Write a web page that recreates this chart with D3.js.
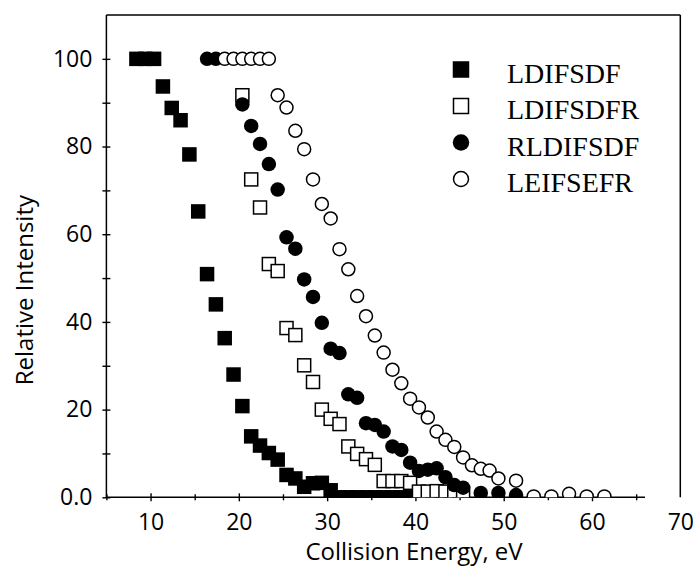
<!DOCTYPE html>
<html>
<head>
<meta charset="utf-8">
<script src="https://cdn.jsdelivr.net/npm/d3@7/dist/d3.min.js"></script>
<style>
  html, body { margin: 0; padding: 0; background: #fff; }
  svg { display: block; }
</style>
</head>
<body>
<svg id="chart" width="693" height="567"></svg>
<script>
// Collision energy (eV) and relative intensity for each peptide series
const ldifsdfEnergy = [8.4, 9.4, 10.4, 11.4, 12.4, 13.4, 14.4, 15.4, 16.4, 17.4, 18.4, 19.4, 20.4, 21.4, 22.4, 23.4, 24.4, 25.4, 26.4, 27.4, 28.4, 29.4, 30.4, 31.4, 32.4, 33.4, 34.4, 35.4, 36.4, 37.4, 38.4, 39.4, 40.4];
const ldifsdfIntensity = [100, 100, 100, 93.7, 88.8, 86.0, 78.2, 65.2, 50.9, 44.0, 36.3, 28.0, 20.8, 13.9, 11.8, 10.1, 8.6, 5.1, 4.3, 2.4, 3.2, 3.3, 1.6, 0, 0, 0, 0, 0, 0, 0, 0, 0, 0];

const ldifsdfrEnergy = [20.4, 21.4, 22.4, 23.4, 24.4, 25.4, 26.4, 27.4, 28.4, 29.4, 30.4, 31.4, 32.4, 33.4, 34.4, 35.4, 36.4, 37.4, 38.4, 39.4, 40.4, 41.4, 42.4, 43.4, 44.4, 45.4];
const ldifsdfrIntensity = [91.7, 72.5, 66.1, 53.2, 51.6, 38.6, 37.0, 30.1, 26.3, 20.0, 17.9, 16.7, 11.6, 9.9, 8.7, 7.4, 3.7, 3.7, 3.7, 3.3, 1.3, 1.3, 1.4, 1.3, 1.0, 1.0];

const rldifsdfEnergy = [16.4, 17.4, 20.4, 21.4, 22.4, 23.4, 24.4, 25.4, 26.4, 27.4, 28.4, 29.4, 30.4, 31.4, 32.4, 33.4, 34.4, 35.4, 36.4, 37.4, 38.4, 39.4, 40.4, 41.4, 42.4, 43.4, 44.4, 45.4, 47.4, 49.4, 51.4];
const rldifsdfIntensity = [100, 100, 89.6, 84.7, 80.6, 76.0, 70.2, 59.3, 56.7, 49.7, 45.7, 39.8, 33.9, 32.9, 23.5, 22.7, 16.9, 16.5, 15.0, 11.6, 10.8, 7.9, 6.0, 6.3, 6.6, 4.6, 2.8, 2.2, 1.0, 1.0, 0.5];

const leifsefrEnergy = [18.4, 19.4, 20.4, 21.4, 22.4, 23.4, 24.4, 25.4, 26.4, 27.4, 28.4, 29.4, 30.4, 31.4, 32.4, 33.4, 34.4, 35.4, 36.4, 37.4, 38.4, 39.4, 40.4, 41.4, 42.4, 43.4, 44.4, 45.4, 46.4, 47.4, 48.4, 49.4, 51.4, 53.4, 55.4, 57.4, 59.4, 61.4];
const leifsefrIntensity = [100, 100, 100, 100, 100, 100, 91.7, 88.9, 83.6, 79.4, 72.5, 66.9, 63.6, 56.6, 52.0, 45.9, 41.3, 36.9, 33.0, 29.1, 26.0, 22.5, 20.5, 18.2, 15.0, 13.1, 11.5, 9.1, 7.3, 6.5, 6.1, 4.3, 3.8, 0.2, 0.2, 0.8, 0.2, 0.2];

const seriesNames = ["LDIFSDF", "LDIFSDFR", "RLDIFSDF", "LEIFSEFR"];

const xMajorTicks = [10, 20, 30, 40, 50, 60, 70];
const xMinorTicks = [5, 15, 25, 35, 45, 55, 65];
const yMajorTicks = [0, 20, 40, 60, 80, 100];
const yMinorTicks = [10, 30, 50, 70, 90];
const yTickLabels = ["0.0", "20", "40", "60", "80", "100"];

const series = [
  { name: seriesNames[0], x: ldifsdfEnergy, y: ldifsdfIntensity, shape: "square", filled: true },
  { name: seriesNames[1], x: ldifsdfrEnergy, y: ldifsdfrIntensity, shape: "square", filled: false },
  { name: seriesNames[2], x: rldifsdfEnergy, y: rldifsdfIntensity, shape: "circle", filled: true },
  { name: seriesNames[3], x: leifsefrEnergy, y: leifsefrIntensity, shape: "circle", filled: false }
];

const svg = d3.select("#chart");
const plotLeft = 106.4, plotRight = 680.3, plotTop = 15, plotBottom = 497.3;

const x = d3.scaleLinear().domain([5, 70]).range([plotLeft, plotRight]);
const y = d3.scaleLinear().domain([0, 110]).range([plotBottom, plotTop]);

const sansFont = "'Open Sans', 'DejaVu Sans', sans-serif";
const serifFont = "'Liberation Serif', 'Times New Roman', serif";

// Clip the markers to the plotting frame
svg.append("defs").append("clipPath").attr("id", "plot-clip")
  .append("rect")
  .attr("x", x(5)).attr("y", y(110))
  .attr("width", x(70) - x(5)).attr("height", y(0) - y(110));

// Axes
function styleAxis(g, fontSize) {
  g.select(".domain").remove();
  g.selectAll("line").attr("stroke", "#000").attr("stroke-width", 1.4);
  g.selectAll("text").attr("font-family", sansFont).attr("font-size", fontSize).attr("fill", "#000");
}

const yAxis = svg.append("g").attr("transform", `translate(${x(5)},0)`)
  .call(d3.axisLeft(y).tickValues(yMajorTicks).tickSize(4).tickPadding(10)
    .tickFormat((d, i) => yTickLabels[i]));
styleAxis(yAxis, 23);
yAxis.selectAll(".tick line").attr("x1", 4);

const yAxisMinor = svg.append("g").attr("transform", `translate(${x(5)},0)`)
  .call(d3.axisLeft(y).tickValues(yMinorTicks).tickSize(4).tickFormat(""));
styleAxis(yAxisMinor, 23);
yAxisMinor.selectAll(".tick line").attr("x1", 4);

const xAxis = svg.append("g").attr("transform", `translate(0,${y(0)})`)
  .call(d3.axisBottom(x).tickValues(xMajorTicks).tickSize(4).tickPadding(12));
styleAxis(xAxis, 23);
xAxis.selectAll(".tick line").attr("y1", -4);
xAxis.selectAll(".tick").filter(d => d === 70).select("line").remove();

const xAxisMinor = svg.append("g").attr("transform", `translate(0,${y(0)})`)
  .call(d3.axisBottom(x).tickValues(xMinorTicks).tickSize(3).tickFormat(""));
styleAxis(xAxisMinor, 23);
xAxisMinor.selectAll(".tick line").attr("y1", -3);

// Frame: left axis, bottom axis, top and right borders
const frame = svg.append("g").attr("stroke", "#000").attr("stroke-width", 1.5).attr("fill", "none");
frame.append("line").attr("x1", x(5)).attr("x2", x(5)).attr("y1", y(110)).attr("y2", y(0) + 0.7);
frame.append("line").attr("x1", x(5)).attr("x2", x(66)).attr("y1", y(0)).attr("y2", y(0));
frame.append("line").attr("x1", x(5)).attr("x2", x(70)).attr("y1", y(110)).attr("y2", y(110));
frame.append("line").attr("x1", x(70)).attr("x2", x(70)).attr("y1", y(110)).attr("y2", y(0));

// Axis titles
svg.append("text")
  .attr("transform", `translate(33,${(y(0) + y(110)) / 2 + 34}) rotate(-90)`)
  .attr("text-anchor", "middle")
  .attr("font-family", sansFont).attr("font-size", 24).attr("fill", "#000")
  .text("Relative Intensity");

svg.append("text")
  .attr("x", 414).attr("y", 560)
  .attr("text-anchor", "middle")
  .attr("font-family", sansFont).attr("font-size", 24).attr("fill", "#000")
  .text("Collision Energy, eV");

// Markers
const markerSize = 14.5;
const plot = svg.append("g").attr("clip-path", "url(#plot-clip)");

function drawMarker(g, shape, filled, cx, cy, size) {
  const strokeW = filled ? 0 : 1.5;
  if (shape === "square") {
    const s = filled ? size : size - 1.5;
    g.append("rect")
      .attr("x", cx - s / 2).attr("y", cy - s / 2)
      .attr("width", s).attr("height", s)
      .attr("fill", filled ? "#000" : "#fff")
      .attr("stroke", filled ? "none" : "#000")
      .attr("stroke-width", strokeW);
  } else {
    const r = filled ? size / 2 : size / 2 - 0.75;
    g.append("circle")
      .attr("cx", cx).attr("cy", cy).attr("r", r)
      .attr("fill", filled ? "#000" : "#fff")
      .attr("stroke", filled ? "none" : "#000")
      .attr("stroke-width", strokeW);
  }
}

series.forEach(s => {
  const g = plot.append("g").attr("class", "series");
  s.x.forEach((ev, i) => drawMarker(g, s.shape, s.filled, x(ev), y(s.y[i]), markerSize));
});

// Legend
const legend = svg.append("g");
const legendRows = [69.5, 106, 142.5, 179];
series.forEach((s, i) => {
  drawMarker(legend, s.shape, s.filled, 461, legendRows[i], 16.5);
  legend.append("text")
    .attr("x", 507).attr("y", legendRows[i] + 13)
    .attr("font-family", serifFont).attr("font-size", 28).attr("fill", "#000")
    .text(s.name);
});
</script>
</body>
</html>
